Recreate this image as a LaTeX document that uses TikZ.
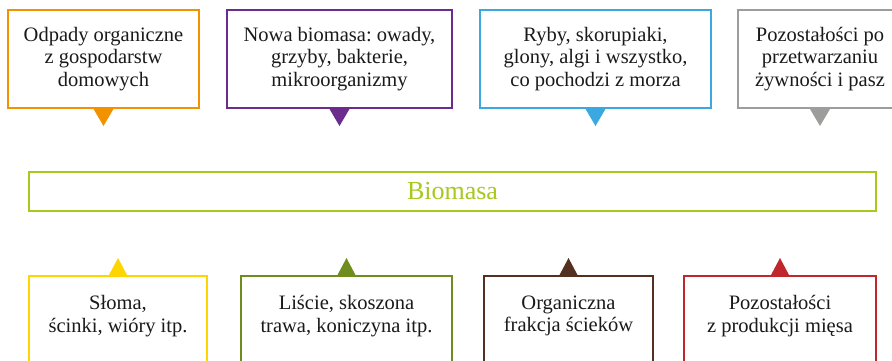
\documentclass[tikz,border=0pt]{standalone}
\usepackage{fontspec}
\setmainfont{Liberation Serif}
\frenchspacing
\definecolor{cOrange}{HTML}{F39200}
\definecolor{cPurple}{HTML}{6B2C8E}
\definecolor{cBlue}{HTML}{3BA9E0}
\definecolor{cGray}{HTML}{9D9D9C}
\definecolor{cLime}{HTML}{A7C81E}
\definecolor{cYellow}{HTML}{FFD500}
\definecolor{cOlive}{HTML}{6F8C1E}
\definecolor{cBrown}{HTML}{53301F}
\definecolor{cRed}{HTML}{C0272D}
\definecolor{txt}{HTML}{1A1A1A}
\begin{document}
\begin{tikzpicture}[x=1pt,y=-1pt,
  box/.style={draw, line width=2pt, inner sep=0pt, fill=white},
  lab/.style={font=\fontsize{20.5}{22.5}\selectfont\frenchspacing, align=center, text=txt},
]
\useasboundingbox (0,0) rectangle (892,360);
\clip (0,0) rectangle (892,360);
% top boxes
\node[box, draw=cOrange, minimum width=191pt, minimum height=98pt, lab] (b1) at (103.5,59) {Odpady organiczne\\z gospodarstw\\domowych};
\node[box, draw=cPurple, minimum width=225pt, minimum height=98pt, lab] (b2) at (339.5,59) {Nowa biomasa: owady,\\grzyby, bakterie,\\mikroorganizmy};
\node[box, draw=cBlue, minimum width=231pt, minimum height=98pt, lab] (b3) at (595.5,59) {Ryby, skorupiaki,\\glony, algi i wszystko,\\co pochodzi z morza};
\node[box, draw=cGray, minimum width=164pt, minimum height=98pt, lab] (b4) at (820,59) {Pozostałości po\\przetwarzaniu\\żywności i pasz};
\foreach \n/\c in {b1/cOrange,b2/cPurple,b3/cBlue,b4/cGray}
  \fill[\c] ([xshift=-10pt]\n.south) -- ([xshift=10pt]\n.south) -- ([yshift=-17pt]\n.south) -- cycle;
% biomasa bar
\node[box, draw=cLime, minimum width=847pt, minimum height=39pt, font=\fontsize{26}{30}\selectfont, text=cLime] (bio) at (452.5,191.5) {Biomasa};
% bottom boxes
\node[box, draw=cYellow, minimum width=178pt, minimum height=124pt] (b5) at (118,338) {};
\node[box, draw=cOlive, minimum width=211pt, minimum height=124pt] (b6) at (346.5,338) {};
\node[box, draw=cBrown, minimum width=169pt, minimum height=124pt] (b7) at (568.5,338) {};
\node[box, draw=cRed, minimum width=192pt, minimum height=124pt] (b8) at (780,338) {};
\foreach \n/\c in {b5/cYellow,b6/cOlive,b7/cBrown,b8/cRed}
  \fill[\c] ([xshift=-9pt]\n.north) -- ([xshift=9pt]\n.north) -- ([yshift=17pt]\n.north) -- cycle;
\node[lab] (t5) at (118,316) {Słoma,\\ścinki, wióry itp.};
\node[lab] (t6) at (346.5,316) {Liście, skoszona\\trawa, koniczyna itp.};
\node[lab] (t7) at (568.5,316) {Organiczna\\frakcja ścieków};
\node[lab] (t8) at (780,316) {Pozostałości\\z produkcji mięsa};
\end{tikzpicture}
\end{document}
